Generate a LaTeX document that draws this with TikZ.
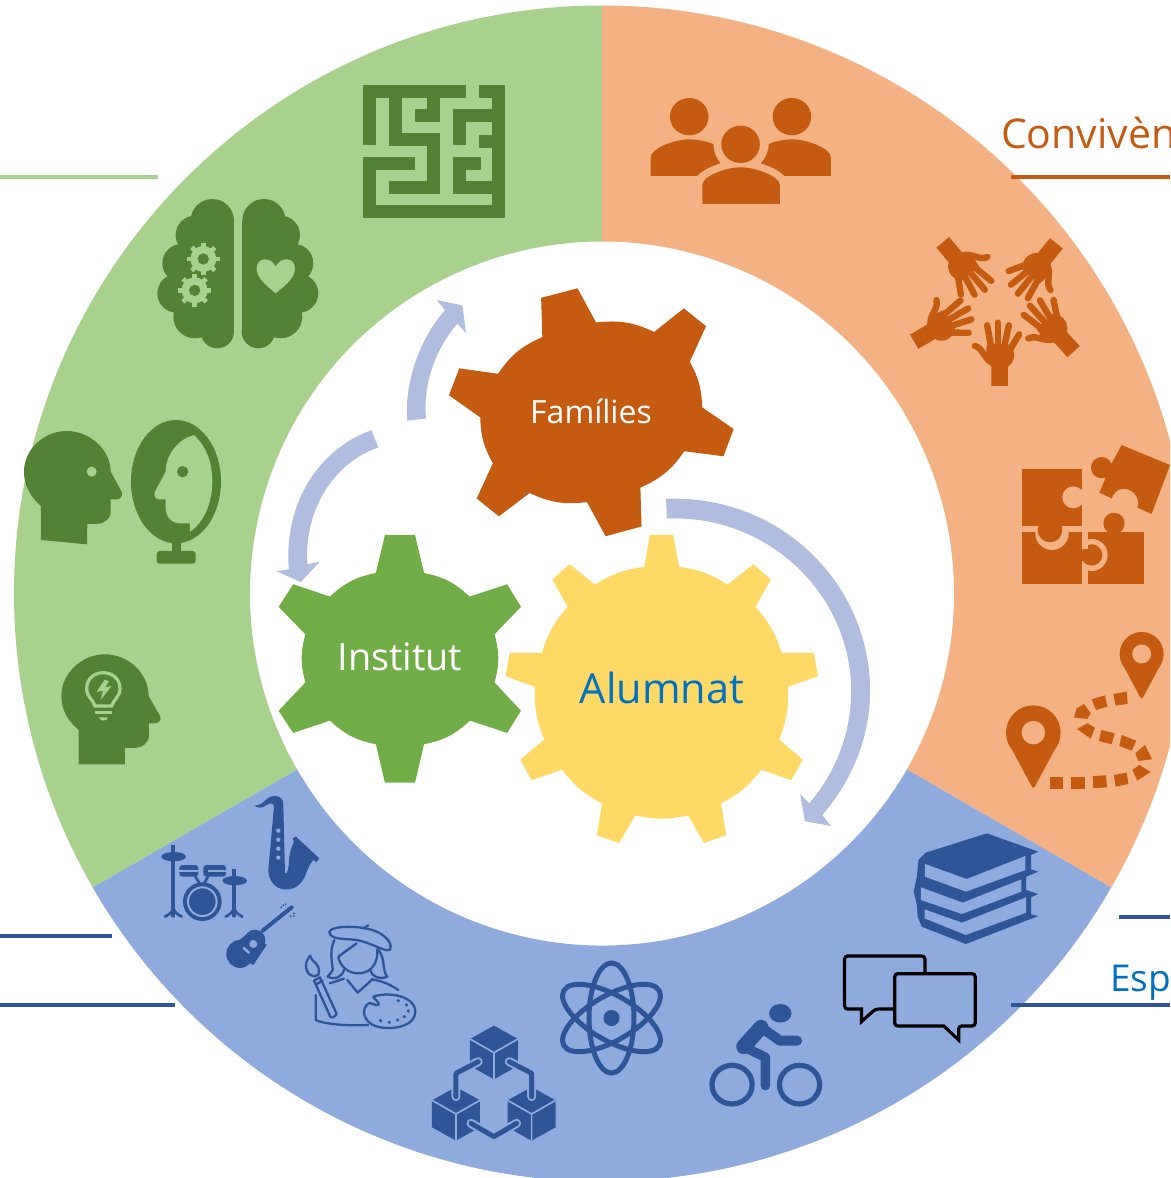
\documentclass[tikz,border=0pt]{standalone}
\usepackage{fontspec}
\setmainfont{Open Sans}
\definecolor{gL}{HTML}{A9D18E}\definecolor{gD}{HTML}{548235}\definecolor{gM}{HTML}{70AD47}
\definecolor{oL}{HTML}{F4B183}\definecolor{oD}{HTML}{C55A11}
\definecolor{bL}{HTML}{8FAADC}\definecolor{bD}{HTML}{2F5597}
\definecolor{yM}{HTML}{FFD966}\definecolor{arr}{HTML}{B0BDDF}\definecolor{tB}{HTML}{0070C0}
\tikzset{
 zm/.style n args={4}{shift={(#1,#2)},x=#3pt,y=-#4pt},
 rule/.style={line width=3.2pt},
 label/.style={anchor=base,inner sep=0pt,outer sep=0pt},
 blockarrow/.style={fill=arr}
}
\newcommand{\tinygear}[2]{\begin{scope}[shift={(#1,#2)}]
 \fill[gL] (0,0) circle (39);
 \foreach \a in {0,45,...,315} \draw[gL,line width=4.6pt] (\a:34) -- (\a:49);
 \fill[gD] (0,0) circle (17);
\end{scope}}
\newcommand{\onehand}[3]{\begin{scope}[shift={(#1,#2)},rotate=#3]
 \fill[oD] (-24,0) -- (24,0) -- (24,-58) .. controls (42,-70) and (46,-90) .. (40,-108) -- (36,-125) -- (-36,-125) .. controls (-40,-100) and (-42,-75) .. (-24,-58) -- cycle;
 \begin{scope}[oD,line width=6.4pt,line cap=round]
 \draw (30,-108) -- (57,-155); \draw (13,-115) -- (27,-182); \draw (-5,-120) -- (-5,-190); \draw (-24,-115) -- (-36,-182);
 \draw (-26,-72) .. controls (-45,-85) and (-50,-115) .. (-72,-120);
 \end{scope}
\end{scope}}
\newcommand{\mappin}[4]{% x y r tip-offset, in current units
 \fill[oD] (#1,#2) circle (#3);
 \fill[oD,rounded corners=3pt] (#1-#3*.93,#2+#3*.35) -- (#1,#2+#4) -- (#1+#3*.93,#2+#3*.35) -- cycle;
 \fill[oL] (#1,#2) circle (#3*.43);}
\newcommand{\cube}[2]{\begin{scope}[shift={(#1,#2)}]
 \fill[bD] (0,-81) -- (72,-41) -- (72,40) -- (0,80) -- (-72,40) -- (-72,-41) -- cycle;
 \draw[bL,line width=1.7pt] (-72,-41) -- (0,0) -- (72,-41) (0,0) -- (0,80);
\end{scope}}
\newcommand{\foot}[2]{\draw[bD,line width=2.6pt,line cap=round] (#1,#2-25) .. controls (#1-8,#2-10) .. (#1-25,#2) (#1,#2-25) .. controls (#1+8,#2-10) .. (#1+25,#2) (#1,#2-20) -- (#1,#2);}
\begin{document}
\begin{tikzpicture}[x=1pt,y=-1pt]
\useasboundingbox (0,0) rectangle (1170,1178);
\clip (0,0) rectangle (1170,1178);
\fill[white] (0,0) rectangle (1170,1178);
% rules and labels
\draw[gL,rule] (0,177) -- (158,177);
\draw[bD,rule] (0,936) -- (112,936);
\draw[bD,rule] (0,1005) -- (175,1005);
\draw[bD,rule] (1119,917) -- (1170,917);
% ring
\fill[gL] (602,5.5) arc[start angle=90,end angle=210,radius=588pt] -- (297.2,769.5) arc[start angle=210,end angle=90,radius=352pt] -- cycle;
\fill[oL] (602,5.5) arc[start angle=90,end angle=-30,radius=588pt] -- (906.8,769.5) arc[start angle=-30,end angle=90,radius=352pt] -- cycle;
\fill[bL] (1111.2,887.5) arc[start angle=-30,end angle=-150,radius=588pt] -- (297.2,769.5) arc[start angle=-150,end angle=-30,radius=352pt] -- cycle;
\draw[oD,rule] (1011,177) -- (1170,177);
\draw[bD,rule] (1011,1005) -- (1170,1005);
\node[label,text=oD,font=\fontsize{41}{41}\selectfont] (conv) at (1001,148) [anchor=base west] {Convivèn};
\node[label,text=tB,font=\fontsize{37}{37}\selectfont] (esp) at (1110,991) [anchor=base west] {Esp};
% gears, arrows
\begin{scope}[zm={260}{280}{.3954}{.3635}]
 \fill[oD] (711,49)--(803,23)--(850,117) to[bend left=16] (997,143)--(1072,78)--(1128,127)--(1087,225) to[bend left=14] (1118,350)--(1198,410)--(1172,485)--(1073,471) to[bend left=16] (962,571)--(965,678)--(874,705)--(827,611) to[bend left=16] (682,586)--(604,650)--(548,601)--(589,504) to[bend left=14] (557,378)--(478,317)--(504,243)--(602,258) to[bend left=16] (714,157)--cycle;
 \fill[gM] (316,701)--(392,701)--(415,806) to[bend left=16] (530,871)--(625,837)--(660,899)--(593,975) to[bend left=16] (593,1107)--(660,1185)--(625,1246)--(531,1212) to[bend left=16] (415,1277)--(392,1383)--(316,1383)--(293,1277) to[bend left=16] (177,1212)--(84,1246)--(47,1185)--(115,1107) to[bend left=16] (115,975)--(47,899)--(84,837)--(177,871) to[bend left=16] (293,806)--cycle;
 \fill[yM] (986,701)--(1045,701)--(1060,789) to[bend left=12] (1182,838)--(1248,782)--(1292,824)--(1253,899) to[bend left=12] (1319,1026)--(1401,1026)--(1411,1090)--(1335,1119) to[bend left=12] (1313,1264)--(1373,1320)--(1343,1376)--(1268,1347) to[bend left=12] (1166,1440)--(1179,1527)--(1123,1549)--(1083,1473) to[bend left=12] (949,1473)--(908,1549)--(852,1527)--(865,1440) to[bend left=12] (764,1347)--(687,1376)--(658,1320)--(719,1264) to[bend left=12] (695,1119)--(621,1090)--(631,1026)--(713,1026) to[bend left=12] (778,899)--(739,824)--(783,782)--(847,838) to[bend left=12] (972,789)--cycle;
 \fill[blockarrow] (372,387) .. controls (365,280) and (405,160) .. (468,83) -- (447,55) -- (512,70) -- (521,146) -- (499,120) .. controls (445,190) and (412,280) .. (420,381) -- cycle;
 \fill[blockarrow] (282,413) .. controls (150,465) and (60,610) .. (73,796) -- (42,801) -- (103,831) -- (151,775) -- (120,782) .. controls (110,630) and (190,500) .. (299,461) -- cycle;
 \fill[blockarrow] (1027,602) .. controls (1320,590) and (1543,840) .. (1543,1130) .. controls (1543,1260) and (1495,1380) .. (1422,1472) -- (1444,1502) -- (1378,1489) -- (1366,1414) -- (1389,1440) .. controls (1455,1355) and (1495,1250) .. (1495,1130) .. controls (1495,870) and (1290,645) .. (1029,656) -- cycle;
\end{scope}
\node[label,text=white,font=\fontsize{32}{32}\selectfont] (fam) at (591,423) {Famílies};
\node[label,text=white,font=\fontsize{37.8}{38}\selectfont] (inst) at (400,670) {Institut};
\node[label,text=tB,font=\fontsize{41.5}{42}\selectfont] (alum) at (662,703) {Alumnat};
% maze and brain
\begin{scope}[zm={0}{60}{.3333}{.3333}]
 \begin{scope}[gD,line width=13pt]
 \draw (1108,255)--(1108,94)--(1398,94);
 \draw (1187,94)--(1187,238)--(1302,238)--(1302,383)--(1167,383);
 \draw (1302,112)--(1302,166)--(1244,166);
 \draw (1436,94)--(1495,94)--(1495,455)--(1108,455)--(1108,311)--(1244,311);
 \draw (1378,255)--(1378,166)--(1495,166);
 \draw (1436,245)--(1495,245);
 \draw (1443,311)--(1378,311)--(1378,383)--(1495,383);
 \end{scope}
 \fill[gD] (637,482) circle (65) (585,525) circle (58) (545,610) circle (58) (530,700) circle (58) (585,770) circle (65) (652,815) circle (50);
 \fill[gD] (560,482) rectangle (702,815);
 \fill[gD] (792,482) circle (65) (842,525) circle (58) (882,610) circle (58) (897,700) circle (58) (842,770) circle (65) (775,815) circle (50);
 \fill[gD] (727,482) rectangle (869,815);
 \tinygear{610}{597}\tinygear{584}{691}
 \fill[gL] (827,700) .. controls (790,670) and (770,650) .. (770,625) .. controls (770,590) and (815,590) .. (827,620) .. controls (840,590) and (885,590) .. (885,625) .. controls (885,650) and (865,670) .. (827,700) -- cycle;
\end{scope}
% heads and mirror
\begin{scope}[zm={0}{400}{.3333}{.3333}]
 \fill[gD] (123,420) -- (123,318) .. controls (90,290) and (72,255) .. (72,215) .. controls (72,150) and (130,93) .. (200,93) .. controls (270,93) and (332,150) .. (332,215) -- (365,275) .. controls (370,290) and (360,298) .. (350,298) -- (332,298) -- (332,335) .. controls (332,358) and (310,372) .. (290,372) -- (262,372) -- (261,433) -- cycle;
 \fill[gL] (275,215) circle (15);
 \fill[gD] (528,245) ellipse (135 and 185);
 \fill[gD] (515,425) rectangle (543,460);
 \fill[gD,rounded corners=3pt] (470,453) rectangle (587,491);
 \fill[gL] (582,105) .. controls (620,140) and (637,190) .. (637,245) .. controls (637,310) and (610,370) .. (570,395) -- (570,370) -- (540,370) .. controls (515,370) and (497,350) .. (497,325) -- (497,298) -- (478,298) .. controls (465,298) and (460,285) .. (465,275) -- (497,215) .. controls (497,160) and (540,115) .. (582,105) -- cycle;
 \fill[gD] (548,215) circle (17);
 \fill[gD] (236,1093) -- (236,990) .. controls (205,965) and (184,930) .. (184,888) .. controls (184,820) and (245,763) .. (315,763) .. controls (385,763) and (446,820) .. (446,888) -- (480,948) .. controls (487,960) and (475,970) .. (465,970) -- (447,970) -- (447,1005) .. controls (447,1030) and (425,1044) .. (405,1044) -- (375,1044) -- (375,1093) -- cycle;
 \draw[gL,line width=3.2pt] (285,918) .. controls (280,900) and (260,890) .. (260,866) .. controls (260,835) and (285,818) .. (310,818) .. controls (335,818) and (360,835) .. (360,866) .. controls (360,890) and (340,900) .. (335,918) -- cycle;
 \draw[gL,line width=3pt] (285,938) -- (335,938);
 \fill[gL] (297,952) -- (324,952) .. controls (322,965) and (300,965) .. (297,952) -- cycle;
 \fill[gL] (313,840) -- (290,876) -- (309,872) -- (302,900) -- (335,858) -- (316,862) -- (327,843) -- cycle;
\end{scope}
% people, hands
\begin{scope}[zm={630}{80}{.3444}{.3333}]
 \fill[oD] (172,110) circle (56) (470,110) circle (56) (321,193) circle (56);
 \fill[oD] (60,288) -- (60,232) .. controls (60,205) and (130,178) .. (172,178) .. controls (195,178) and (225,185) .. (242,192) .. controls (242,215) and (250,235) .. (263,250) .. controls (240,257) and (210,270) .. (195,288) -- cycle;
 \fill[oD] (583,288) -- (583,232) .. controls (583,205) and (513,178) .. (471,178) .. controls (448,178) and (418,185) .. (403,192) .. controls (403,215) and (393,235) .. (380,250) .. controls (403,257) and (433,270) .. (448,288) -- cycle;
 \fill[oD] (210,372) -- (210,315) .. controls (210,290) and (275,262) .. (321,262) .. controls (367,262) and (435,290) .. (435,315) -- (435,372) -- cycle;
 \onehand{1073}{918}{0}
 \onehand{1288}{815}{42}
 \onehand{825}{785}{-60}
 \onehand{908}{487}{-140}
 \onehand{1238}{490}{141}
\end{scope}
% puzzle, route
\begin{scope}[zm={980}{430}{.3333}{.3333}]
 \fill[oD] (325,305) rectangle (492,462);
 \fill[oL] (335,375) circle (48);
 \fill[oD] (125,305) rectangle (307,462);
 \fill[oL] (216,310) circle (50);
 \fill[oD] (125,117) rectangle (307,287);
 \fill[oL] (280,202) circle (33);
 \fill[oL] (280,180) rectangle (309,224);
 \fill[oD] (210,300) circle (37) (335,375) circle (32) (402,280) circle (32);
 \fill[oD] (195,287) rectangle (225,305);
 \fill[oD] (300,360) rectangle (330,392);
 \fill[oL] (307,340) rectangle (325,358);
 \fill[oD] (425,45) -- (570,105) -- (515,252) -- (472,233) .. controls (490,190) and (420,145) .. (395,205) -- (358,188) -- (385,125) -- (395,100) -- cycle;
 \fill[oD] (365,113) circle (32);
 \mappin{485}{672}{66}{138}
 \mappin{160}{908}{82}{170}
 \begin{scope}[oD]
 \fill (210,1040) rectangle (250,1077);
 \fill (274,1040) rectangle (314,1077);
 \fill (338,1038) -- (378,1036) -- (381,1072) -- (340,1075) -- cycle;
 \fill (402,1035) -- (440,1028) -- (445,1062) -- (407,1070) -- cycle;
 \fill (478,1005) -- (512,1026) -- (472,1052) -- (457,1020) -- cycle;
 \fill (495,945) -- (516,988) -- (475,993) -- (466,970) -- cycle;
 \fill (425,915) -- (469,932) -- (455,962) -- (418,948) -- cycle;
 \fill (364,900) -- (404,910) -- (395,943) -- (357,933) -- cycle;
 \fill (322,880) -- (345,893) -- (332,926) -- (291,897) -- cycle;
 \fill (282,863) -- (290,835) -- (312,822) -- (332,850) -- (322,867) -- cycle;
 \fill (335,808) -- (375,796) -- (382,830) -- (348,840) -- cycle;
 \fill (400,792) -- (440,785) -- (443,822) -- (407,827) -- cycle;
 \end{scope}
\end{scope}
% music, art, cubes
\begin{scope}[zm={140}{790}{.3333}{.3333}]
 \fill[bD] (345,45) .. controls (370,50) and (375,18) .. (405,18) .. controls (425,18) and (430,30) .. (430,45) -- (435,250) .. controls (440,255) and (447,235) .. (447,215) .. controls (447,190) and (455,170) .. (462,155) -- (458,145) -- (468,140) -- (538,205) -- (530,216) -- (520,210) .. controls (505,225) and (500,250) .. (492,265) .. controls (475,295) and (450,300) .. (435,298) .. controls (405,298) and (385,270) .. (385,240) -- (402,50) .. controls (402,35) and (385,40) .. (375,48) .. controls (365,55) and (350,55) .. (345,45) -- cycle;
 \fill[bL] (415,122) circle (6.5) (415,149) circle (6.5) (415,176) circle (6.5) (415,203) circle (6.5);
 \fill[bD] (94,165) rectangle (106,380);
 \fill[bD] (101,200) ellipse (37 and 14);
 \fill[bD] (276,238) rectangle (288,380);
 \fill[bD] (284,272) ellipse (37 and 14);
 \foot{100}{380}\foot{282}{380}
 \fill[bD,rounded corners=3pt] (118,225) rectangle (175,260);
 \fill[bD,rounded corners=3pt] (190,225) rectangle (258,260);
 \draw[bL,line width=1.3pt] (118,243) -- (175,243) (205,243) -- (258,243);
 \draw[bD,line width=2.6pt] (165,258) -- (182,285) (205,258) -- (190,285);
 \fill[bD] (187,335) circle (58);
 \draw[bL,line width=2pt] (187,335) circle (43);
 \draw[bD,line width=4pt,line cap=round] (368,422) -- (455,352);
 \fill[bD] (300,492) ellipse (41 and 42);
 \fill[bD] (345,450) circle (31);
 \fill[bD] (260,480) -- (330,425) -- (380,465) -- (340,525) -- cycle;
 \fill[bL] (340,462) circle (12);
 \draw[bL,line width=2.4pt] (310,473) -- (328,489);
 \fill[bD] (430,346) circle (3) (437,343) circle (3) (424,352) circle (3) (462,370) circle (3) (452,379) circle (3) (462,378) circle (3);
 \begin{scope}[bD,line width=2.3pt,line cap=round,line join=round]
 \draw (568,425) .. controls (575,405) and (680,405) .. (720,430) .. controls (745,445) and (758,465) .. (750,480) .. controls (730,485) and (700,460) .. (650,450) .. controls (610,445) and (570,450) .. (568,425) -- cycle;
 \draw (670,415) -- (685,406);
 \draw (583,450) .. controls (565,490) and (580,530) .. (578,540) .. controls (575,550) and (565,555) .. (563,560) .. controls (580,570) and (605,565) .. (612,540);
 \draw (715,478) .. controls (738,510) and (725,540) .. (742,560) .. controls (720,570) and (695,560) .. (690,540);
 \draw (650,460) -- (595,500) .. controls (600,530) and (625,550) .. (655,550) .. controls (700,550) and (715,510) .. (712,478);
 \draw (622,570) -- (653,608) -- (697,568);
 \draw (570,580) -- (612,566);
 \draw (697,568) .. controls (735,575) and (755,587) .. (775,600);
 \draw (527,615) -- (527,690) .. controls (560,705) and (640,708) .. (685,705);
 \draw (522,572) -- (540,562) -- (590,672) -- (580,682) -- (572,682) -- cycle;
 \draw (530,582) -- (548,572);
 \draw (510,497) .. controls (512,515) and (545,520) .. (535,555) .. controls (520,565) and (498,555) .. (498,525) .. controls (498,515) and (505,505) .. (510,497) -- cycle;
 \draw (700,620) .. controls (740,605) and (825,615) .. (826,665) .. controls (826,705) and (770,720) .. (720,712) .. controls (680,705) and (660,670) .. (680,645) .. controls (690,630) and (705,650) .. (715,645) .. controls (722,640) and (705,630) .. (700,620) -- cycle;
 \end{scope}
 \fill[bD] (722,692) circle (5.5) (748,697) circle (5.5) (773,690) circle (5.5) (793,680) circle (5.5) (805,663) circle (5.5) (800,645) circle (5.5) (775,632) circle (5.5);
 \cube{1062}{788}\cube{948}{972}\cube{1175}{972}
 \draw[bL,line width=9pt,line cap=round,line join=round] (1015,815)--(948,850)--(948,920) (1108,815)--(1175,850)--(1175,920) (993,1000)--(1062,1040)--(1130,1000);
 \draw[bD,line width=5pt,line cap=round,line join=round] (1015,815)--(948,850)--(948,920) (1108,815)--(1175,850)--(1175,920) (993,1000)--(1062,1040)--(1130,1000);
\end{scope}
% atom
\begin{scope}[bD,line width=5pt]
 \draw (611.5,1018) ellipse (22.5pt and 55pt);
 \draw[rotate around={60:(611.5,1018)}] (611.5,1018) ellipse (22.5pt and 55pt);
 \draw[rotate around={-60:(611.5,1018)}] (611.5,1018) ellipse (22.5pt and 55pt);
 \fill (611.5,1018) circle (8pt);
\end{scope}
% cyclist, bubbles, books
\begin{scope}[zm={540}{820}{.4018}{.3333}]
 \fill[bD] (598,580) circle (28);
 \draw[bD,line width=5.2pt] (478,794) ellipse (50 and 58) (646,794) ellipse (50 and 58);
 \draw[bD,line width=15pt,line cap=round,line join=round] (550,622) -- (507,680);
 \draw[bD,line width=10pt,line cap=round,line join=round] (550,622) -- (597,662) -- (640,662);
 \draw[bD,line width=9.5pt,line cap=round,line join=round] (507,680) -- (561,712) -- (561,797);
 \draw[black,line width=3.2pt,fill=bL,rounded corners=3pt] (758,408) -- (958,408) -- (958,567) -- (835,567) [sharp corners] -- (800,605) -- (800,567) [rounded corners=3pt] -- (758,567) -- cycle;
 \draw[black,line width=3.2pt,fill=bL,rounded corners=3pt] (883,461) -- (1083,461) -- (1083,618) -- (1042,618) [sharp corners] -- (1042,660) -- (1005,618) [rounded corners=3pt] -- (883,618) -- cycle;
 \fill[bD] (960,98) -- (1112,40) -- (1240,95) -- (1222,105) -- (1222,148) -- (1240,155) -- (1210,170) -- (1210,210) -- (1240,222) -- (1222,232) -- (1222,283) -- (1240,288) -- (1060,372) -- (950,320) -- (940,290) -- (938,255) -- (930,215) -- (938,170) -- (942,120) -- cycle;
 \fill[bL] (958,132) -- (1062,177) -- (1208,108) -- (1208,150) -- (1060,215) -- (958,170) -- cycle;
 \fill[bL] (948,202) -- (1052,248) -- (1198,178) -- (1198,215) -- (1050,282) -- (948,240) -- cycle;
 \fill[bL] (957,268) -- (1050,308) -- (1210,232) -- (1210,278) -- (1060,345) -- (957,295) -- cycle;
\end{scope}
\end{tikzpicture}
\end{document}
